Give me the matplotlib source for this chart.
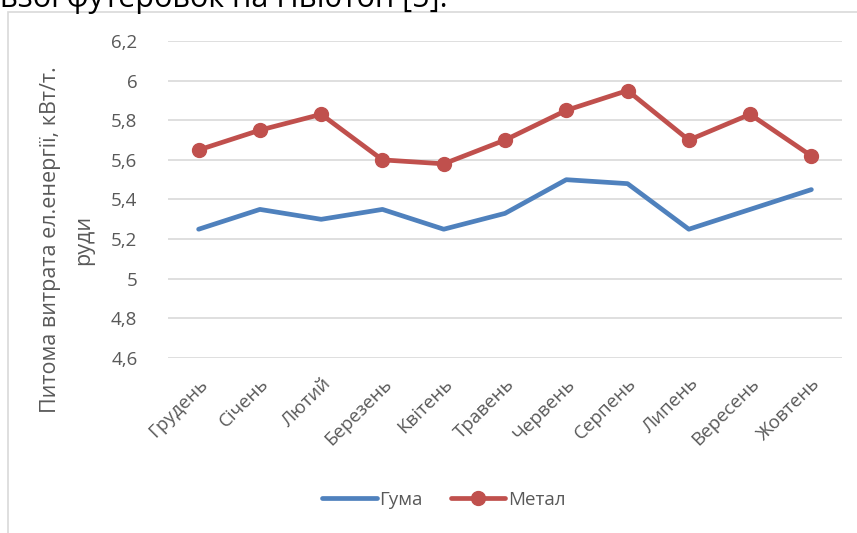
import matplotlib
matplotlib.use("Agg")
import matplotlib.pyplot as plt
from matplotlib.patches import Rectangle

months = ["Грудень", "Січень", "Лютий", "Березень", "Квітень", "Травень",
          "Червень", "Серпень", "Липень", "Вересень", "Жовтень"]
guma = [5.25, 5.35, 5.30, 5.35, 5.25, 5.33, 5.50, 5.48, 5.25, 5.35, 5.45]
metal = [5.65, 5.75, 5.83, 5.60, 5.58, 5.70, 5.85, 5.95, 5.70, 5.83, 5.62]
yticks = [4.6, 4.8, 5.0, 5.2, 5.4, 5.6, 5.8, 6.0, 6.2]
ytick_labels = ["4,6", "4,8", "5", "5,2", "5,4", "5,6", "5,8", "6", "6,2"]
ylabel = "Питома витрата ел.енергії, кВт/т.\nруди"

plt.rcParams['font.family'] = ['Open Sans', 'DejaVu Sans']
grey = "#595959"

fig = plt.figure(figsize=(8.57, 5.33), dpi=100)
W, H = 857, 533

# chart frame
fig.patches.append(Rectangle((8 / W, -0.1), 1.2, 1 - 12 / H + 0.1, transform=fig.transFigure,
                             fill=False, edgecolor="#D9D9D9", linewidth=1.2))
# clipped document text at the top
fig.text(0.0, 1 - 7 / H, "ьзої футеровок на Ньютон [5].", fontsize=22, color="black",
         va="baseline", ha="left")

ax = fig.add_axes([168 / W, 1 - 358 / H, 674 / W, 317 / H])
x = list(range(len(months)))
ax.plot(x, guma, color="#4F81BD", lw=3.4, solid_capstyle="round", label="Гума")
ax.plot(x, metal, color="#C0504D", lw=3.4, marker="o", markersize=10,
        solid_capstyle="round", label="Метал")

ax.set_xlim(-0.5, len(months) - 0.5)
ax.set_ylim(4.6, 6.2)
ax.set_yticks(yticks)
ax.set_yticklabels(ytick_labels, fontsize=13.5, color=grey)
ax.set_xticks(x)
ax.set_xticklabels(months, fontsize=13.5, color=grey, rotation=45, ha="right",
                   va="top", rotation_mode="anchor")
ax.tick_params(axis="both", length=0)
ax.tick_params(axis="y", pad=22)
ax.tick_params(axis="x", pad=12)
ax.grid(axis="y", color="#D9D9D9", lw=1.2)
ax.set_axisbelow(True)
for s in ax.spines.values():
    s.set_visible(False)

fig.text(67 / W, 1 - 240 / H, ylabel, rotation=90, fontsize=15.5, color=grey,
         ha="center", va="center", multialignment="center", linespacing=1.75)

leg = fig.legend(loc="center", bbox_to_anchor=(444 / W, 1 - 500 / H), ncol=2, frameon=False,
                 fontsize=13.5, handlelength=2.9, columnspacing=1.5, handletextpad=0.15)
for t in leg.get_texts():
    t.set_color(grey)

fig.savefig("out.png", dpi=100)
